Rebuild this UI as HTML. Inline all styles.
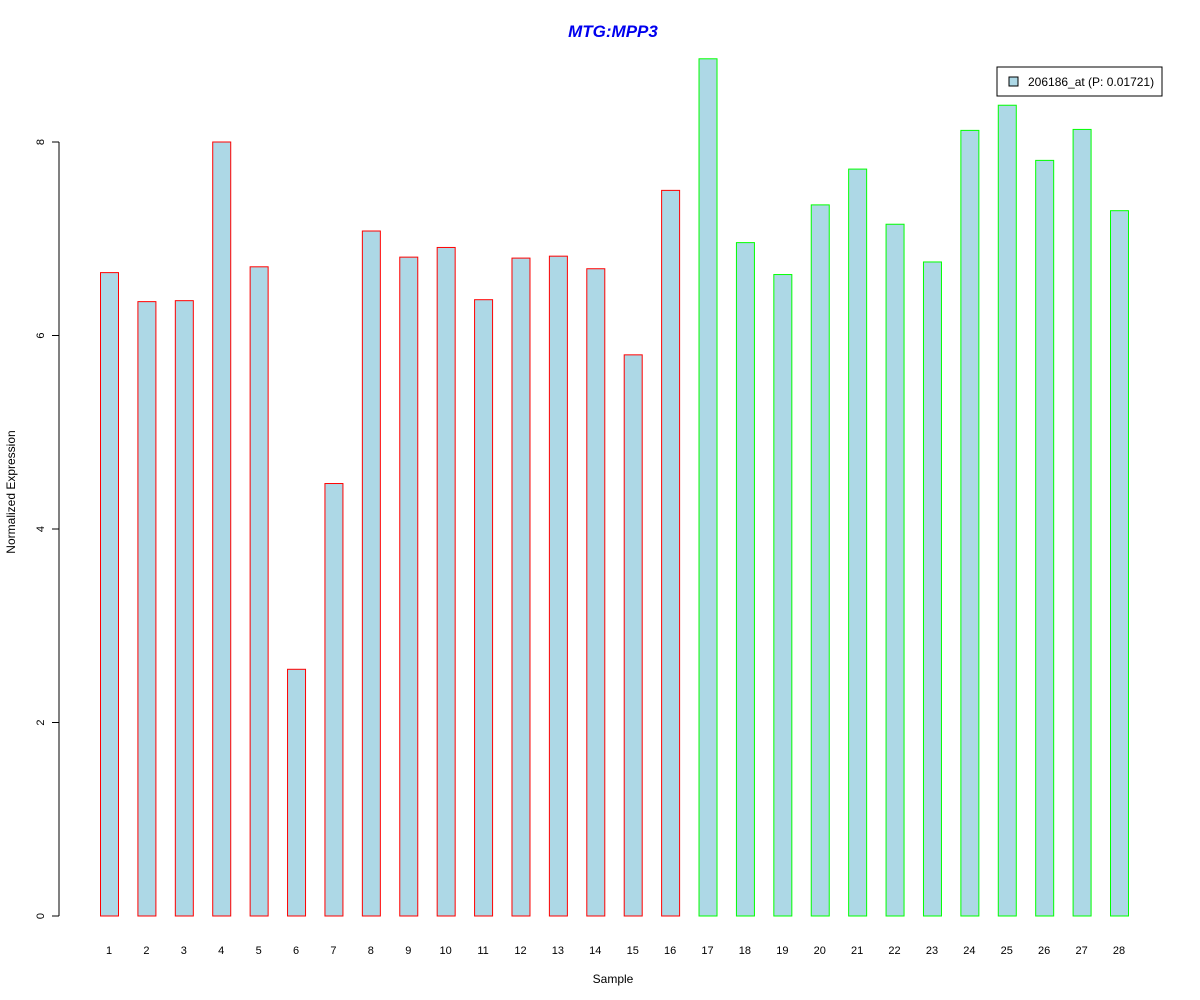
<!DOCTYPE html>
<html><head><meta charset="utf-8"><style>
html,body{margin:0;padding:0;background:#fff;}
svg{display:block;font-family:"Liberation Sans",Arial,sans-serif;}
</style></head><body>
<svg id="chart" width="1200" height="1000" viewBox="0 0 1200 1000" xmlns="http://www.w3.org/2000/svg">
<rect width="1200" height="1000" fill="#fff"/>
<text x="613" y="37" text-anchor="middle" font-size="17" font-weight="bold" font-style="italic" fill="#0000ee">MTG:MPP3</text>
<text x="613" y="983" text-anchor="middle" font-size="12">Sample</text>
<text transform="translate(15,492) rotate(-90)" text-anchor="middle" font-size="12">Normalized Expression</text>
<g id="yaxis"></g>
<g id="bars"></g>
<g id="xlabels"></g>
<g>
<rect x="997" y="67" width="165" height="29" fill="#fff" stroke="#000" stroke-width="1"/>
<rect x="1009" y="77" width="9" height="9" fill="#add8e6" stroke="#000" stroke-width="1"/>
<text x="1028" y="86" font-size="12">206186_at (P: 0.01721)</text>
</g>
</svg>
<script>
const categories = ["1","2","3","4","5","6","7","8","9","10","11","12","13","14","15","16","17","18","19","20","21","22","23","24","25","26","27","28"];
const values = [6.65,6.35,6.36,8.0,6.71,2.55,4.47,7.08,6.81,6.91,6.37,6.80,6.82,6.69,5.80,7.50,8.86,6.96,6.63,7.35,7.72,7.15,6.76,8.12,8.38,7.81,8.13,7.29];
const groups = ["red","red","red","red","red","red","red","red","red","red","red","red","red","red","red","red","green","green","green","green","green","green","green","green","green","green","green","green"];
const yTicks = [0,2,4,6,8];

const NS = "http://www.w3.org/2000/svg";
const y0 = 916, yPerUnit = (916 - 142) / 8;
function yScale(v){ return y0 - v * yPerUnit; }
const x1 = 109, x28 = 1119;
function xScale(i){ return x1 + i * (x28 - x1) / (categories.length - 1); }
const barW = 18;
const strokeColor = {red:"#ff0000", green:"#00ff00"};

const yaxis = document.getElementById("yaxis");
const line = document.createElementNS(NS, "line");


line.setAttribute("x1", 59); line.setAttribute("x2", 59);
line.setAttribute("y1", yScale(yTicks[0])); line.setAttribute("y2", yScale(yTicks[yTicks.length-1]));
line.setAttribute("stroke", "#000");
yaxis.appendChild(line);
yTicks.forEach(t => {
  const y = yScale(t);
  const tk = document.createElementNS(NS, "line");
  
  
  tk.setAttribute("x1", 52); tk.setAttribute("x2", 59);
  tk.setAttribute("y1", y); tk.setAttribute("y2", y);
  tk.setAttribute("stroke", "#000");
  yaxis.appendChild(tk);
  const lb = document.createElementNS(NS, "text");
  
  
  lb.setAttribute("transform", "translate(44," + y + ") rotate(-90)");
  lb.setAttribute("text-anchor", "middle");
  lb.setAttribute("font-size", "11");
  lb.textContent = t;
  yaxis.appendChild(lb);
});

const bars = document.getElementById("bars");
const xl = document.getElementById("xlabels");
values.forEach((v, i) => {
  const cx = xScale(i);
  const r = document.createElementNS(NS, "rect");
  
  
  r.setAttribute("x", cx - barW/2 + 0.5);
  r.setAttribute("y", yScale(v));
  r.setAttribute("width", barW);
  r.setAttribute("height", yScale(0) - yScale(v));
  r.setAttribute("fill", "#add8e6");
  r.setAttribute("stroke", strokeColor[groups[i]]);
  r.setAttribute("stroke-width", "1");
  bars.appendChild(r);
  const t = document.createElementNS(NS, "text");
  
  
  t.setAttribute("x", cx);
  t.setAttribute("y", 954);
  t.setAttribute("text-anchor", "middle");
  t.setAttribute("font-size", "11");
  t.textContent = categories[i];
  xl.appendChild(t);
});
</script>
</body></html>
